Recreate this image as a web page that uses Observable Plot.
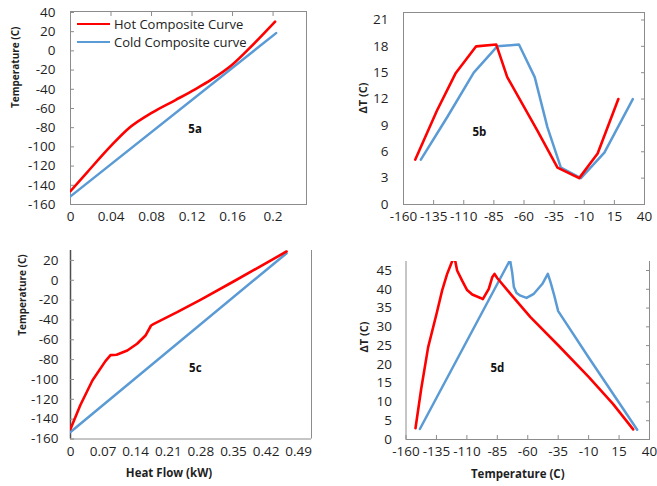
<!DOCTYPE html>
<html><head><meta charset="utf-8">
<script src="https://cdn.jsdelivr.net/npm/d3@7"></script>
<script src="https://cdn.jsdelivr.net/npm/@observablehq/plot@0.6"></script>
<style>
body{margin:0;background:#fff;}
#root{position:relative;width:657px;height:486px;overflow:hidden;font-family:"Open Sans",sans-serif;background:#fff;}
.panel{position:absolute;}
.leg{position:absolute;left:77px;height:18px;display:flex;align-items:center;font-size:13px;color:#222;white-space:nowrap;}
.leg span.sw{display:block;width:33px;height:0;margin-right:4px;}
</style></head><body><div id="root"></div>
<script>
// ---- Data ----
const seriesNames = ["Hot Composite Curve", "Cold Composite curve"];
const hotColor = "#ff0000", coldColor = "#5b9bd5";

// 5a: Temperature vs heat flow
const aHotQ = [0, 0.016, 0.039, 0.057, 0.081, 0.104, 0.123, 0.139, 0.159, 0.175, 0.202];
const aHotT = [-146, -127, -100, -81, -64, -51, -40, -30, -15, 1, 30.5];
const aColdQ = [0, 0.203];
const aColdT = [-151.5, 18.5];
const aXTicks = [0, 0.04, 0.08, 0.12, 0.16, 0.2];
const aYTicks = [-160, -140, -120, -100, -80, -60, -40, -20, 0, 20, 40];

// 5b: ΔT vs temperature
const bHotT = [-150.3, -132.2, -116.9, -99.7, -83, -73.9, -48.9, -32.2, -14.2, 1.1, 18.3];
const bHotDT = [5.1, 10.7, 14.9, 18.0, 18.2, 14.5, 8.4, 4.2, 3.0, 5.8, 12.0];
const bColdT = [-145.6, -123.9, -101.7, -82.2, -64.2, -51.1, -40.6, -29.4, -12.8, 6.7, 30.3];
const bColdDT = [5.1, 9.9, 15.0, 18.0, 18.2, 14.5, 8.8, 4.2, 3.0, 5.9, 12.0];
const bXTicks = [-160, -135, -110, -85, -60, -35, -10, 15, 40];
const bYTicks = [0, 3, 6, 9, 12, 15, 18, 21];

// 5c: Temperature vs heat flow
const cHotQ = [0, 0.021, 0.047, 0.075, 0.086, 0.099, 0.122, 0.143, 0.161, 0.173, 0.179, 0.229, 0.279, 0.351, 0.464];
const cHotT = [-150, -126, -101, -81.5, -75.5, -75, -70.8, -64, -55.7, -45.6, -43.9, -32.2, -19.7, -1, 29];
const cColdQ = [0, 0.464];
const cColdT = [-153, 27.3];
const cXTicks = [0, 0.07, 0.14, 0.21, 0.28, 0.35, 0.42, 0.49];
const cYTicks = [-160, -140, -120, -100, -80, -60, -40, -20, 0, 20];

// 5d: ΔT vs temperature
const dHotT = [-152.2, -147.5, -141.8, -134.9, -130.3, -126.2, -122.9, -121.3, -119.6, -118, -113.9, -109.8, -105.6, -98.8, -96.9, -92, -89.2, -87.3, -85.1, -74.2, -57.8, -35, -10, 10, 26.6];
const dHotDT = [3, 13.5, 24.6, 33.5, 39.7, 44.1, 46.8, 48.1, 47.6, 45, 42.3, 39.8, 38.6, 37.7, 37.4, 40.1, 43.2, 44.1, 43, 38.8, 32.6, 25.1, 16.7, 9.5, 2.7];
const dColdT = [-148.6, -75.5, -74.7, -72.8, -71.4, -69.2, -66, -61, -55, -48.1, -43.5, -41.3, -38.6, -35, -10.1, 29.9];
const dColdDT = [2.8, 47.2, 48.1, 44.5, 40.6, 39, 38.3, 37.7, 38.8, 41.4, 44.1, 41.9, 38.8, 34.2, 21.9, 2.6];
const dXTicks = [-160, -135, -110, -85, -60, -35, -10, 15, 40];
const dYTicks = [0, 5, 10, 15, 20, 25, 30, 35, 40, 45];

const panelLabels = ["5a", "5b", "5c", "5d"];
const xTitles = ["Heat Flow (kW)", "Temperature (C)"];
const yTitles = ["Temperature (C)", "ΔT (C)"];

// ---- helpers ----
const zip = (xs, ys) => xs.map((x, i) => ({x, y: ys[i]}));
const fmt = d => String(d);
const TXT = "#1f1f1f", FRAME = "#8c8c8c";

function panel(o) {
  const hot = zip(o.hx, o.hy), cold = zip(o.cx, o.cy);
  const marks = [];
  if (o.box) marks.push(Plot.frame({stroke: FRAME, strokeWidth: 1}));
  else {
    marks.push(Plot.ruleX([o.xd[1]], {stroke: FRAME, strokeWidth: 1}));
    marks.push(Plot.ruleY([o.yd[0]], {stroke: FRAME, strokeWidth: 1}));
    marks.push(Plot.ruleX([o.xd[0]], {stroke: o.leftColor || FRAME, strokeWidth: o.leftWidth || 1}));
  }
  for (const a of o.xTickAnchors) marks.push(Plot.axisX(o.xt, {anchor: a, tickSize: -4, fill: "none", stroke: FRAME, label: null}));
  for (const a of o.yTickAnchors) marks.push(Plot.axisY(o.yt, {anchor: a, tickSize: -4, fill: "none", stroke: FRAME, label: null}));
  marks.push(Plot.axisX(o.xt, {anchor: "bottom", tickSize: 0, tickPadding: 7, fontSize: 13.5, fill: TXT, tickFormat: fmt, label: null}));
  marks.push(Plot.axisY(o.yt, {anchor: "left", tickSize: 0, tickPadding: o.yPad, fontSize: 13.5, fill: TXT, tickFormat: fmt, label: null}));
  marks.push(Plot.line(cold, {x: "x", y: "y", stroke: coldColor, strokeWidth: 2.5, curve: o.curve, clip: true}));
  marks.push(Plot.line(hot, {x: "x", y: "y", stroke: hotColor, strokeWidth: 2.6, curve: o.curve, clip: true}));
  marks.push(Plot.text([o.yTitle], {text: d => d, frameAnchor: "left", rotate: -90, dx: o.yTitleDx, dy: o.yTitleDy, fontWeight: "bold", fontSize: o.yTitleSize, fill: TXT}));
  if (o.xTitle) marks.push(Plot.text([o.xTitle], {text: d => d, frameAnchor: "bottom", dx: o.xTitleDx, dy: 38, fontWeight: "bold", fontSize: 11.5, fill: TXT}));
  marks.push(Plot.text([o.label], {text: d => d, x: () => o.lx, y: () => o.ly, fontWeight: "bold", fontSize: 11.5, fill: "#111"}));
  const svg = Plot.plot({
    width: o.w, height: o.h,
    marginLeft: o.mL, marginRight: o.mR, marginTop: o.mT, marginBottom: o.mB,
    x: {domain: o.xd, label: null, axis: null},
    y: {domain: o.yd, label: null, axis: null},
    style: {fontFamily: "'Open Sans', sans-serif", fontSize: "13px", background: "transparent", overflow: "visible"},
    marks
  });
  svg.classList.add("panel");
  svg.style.left = o.left + "px";
  svg.style.top = o.top + "px";
  svg.style.position = "absolute";
  document.getElementById("root").appendChild(svg);
}

panel({left: 0, top: 0, w: 330, h: 232, mL: 70, mR: 24, mT: 11, mB: 28,
  xd: [0, 0.233], yd: [-160, 41], xt: aXTicks, yt: aYTicks, box: true,
  xTickAnchors: ["top"], yTickAnchors: ["left"], curve: "monotone-x",
  hx: aHotQ, hy: aHotT, cx: aColdQ, cy: aColdT, yPad: 15,
  yTitle: yTitles[0], yTitleDx: -55, yTitleDy: 0, yTitleSize: 10,
  label: panelLabels[0], lx: 0.123, ly: -82});

panel({left: 330, top: 0, w: 327, h: 232, mL: 73, mR: 13, mT: 12, mB: 28,
  xd: [-160, 40], yd: [0, 21.85], xt: bXTicks, yt: bYTicks, box: true,
  xTickAnchors: ["bottom"], yTickAnchors: ["right"], curve: "linear",
  hx: bHotT, hy: bHotDT, cx: bColdT, cy: bColdDT, yPad: 15,
  yTitle: yTitles[1], yTitleDx: -40, yTitleDy: 5, yTitleSize: 11,
  label: panelLabels[1], lx: -97, ly: 8.2});

panel({left: 0, top: 240, w: 330, h: 246, mL: 70, mR: 19, mT: 10, mB: 47.5,
  xd: [0, 0.5175], yd: [-160, 30], xt: cXTicks, yt: cYTicks, box: false,
  leftColor: "#4d4d4d", leftWidth: 1.5,
  xTickAnchors: [], yTickAnchors: ["left"], curve: "linear",
  hx: cHotQ, hy: cHotT, cx: cColdQ, cy: cColdT, yPad: 12,
  yTitle: yTitles[0], yTitleDx: -48, yTitleDy: -9, yTitleSize: 10,
  xTitle: xTitles[0], xTitleDx: -22,
  label: panelLabels[2], lx: 0.268, ly: -88.6});

panel({left: 330, top: 240, w: 327, h: 246, mL: 75.5, mR: 8, mT: 21, mB: 47,
  xd: [-160, 40], yd: [0, 47.4], xt: dXTicks, yt: dYTicks, box: false,
  xTickAnchors: ["bottom"], yTickAnchors: ["right"], curve: "linear",
  hx: dHotT, hy: dHotDT, cx: dColdT, cy: dColdDT, yPad: 14,
  yTitle: yTitles[1], yTitleDx: -42, yTitleDy: 2, yTitleSize: 11,
  xTitle: xTitles[1], xTitleDx: -10,
  label: panelLabels[3], lx: -85, ly: 19});

const root = document.getElementById("root");
[hotColor, coldColor].forEach((c, i) => {
  const d = document.createElement("div");
  d.className = "leg";
  d.style.top = (15 + i * 17.5) + "px";
  const sw = document.createElement("span");
  sw.className = "sw";
  sw.style.borderTop = "2.5px solid " + c;
  d.appendChild(sw);
  d.appendChild(document.createTextNode(seriesNames[i]));
  root.appendChild(d);
});
</script></body></html>
